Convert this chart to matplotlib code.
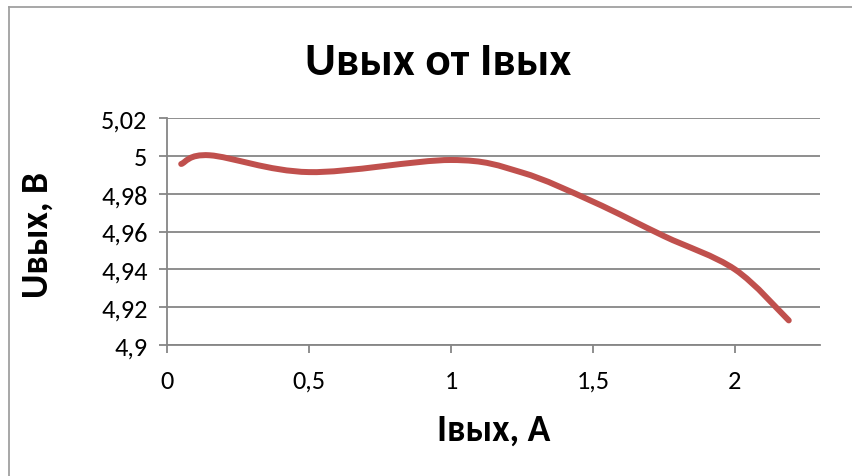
import matplotlib
matplotlib.use("Agg")
import matplotlib.pyplot as plt
from matplotlib.path import Path
from matplotlib.patches import PathPatch
from matplotlib.lines import Line2D
from matplotlib.ticker import FuncFormatter

# Data
current_a = [0.05, 0.15, 0.5, 1.0, 1.25, 1.5, 1.75, 2.0, 2.19]
voltage_v = [4.9957, 5.0003, 4.9914, 4.9978, 4.9912, 4.9758, 4.9576, 4.9400, 4.9130]

title = "Uвых от Iвых"
xlabel = "Iвых, A"
ylabel = "Uвых, В"
x_ticks = [0, 0.5, 1, 1.5, 2]
y_ticks = [4.9, 4.92, 4.94, 4.96, 4.98, 5.0, 5.02]

FONT = ["Carlito", "Lato", "Open Sans", "DejaVu Sans"]
plt.rcParams["font.family"] = FONT

fig = plt.figure(figsize=(8.53, 4.77), dpi=100)
ax = fig.add_axes([167 / 853, 1 - 346 / 477, (820 - 167) / 853, (346 - 119) / 477])

ax.set_xlim(0, 2.3)
ax.set_ylim(4.9, 5.02)
ax.set_xticks(x_ticks)
ax.set_yticks(y_ticks)

def comma_fmt(v, pos):
    s = ("%.2f" % v).rstrip("0").rstrip(".")
    return s.replace(".", ",")

ax.xaxis.set_major_formatter(FuncFormatter(comma_fmt))
ax.yaxis.set_major_formatter(FuncFormatter(comma_fmt))

grid_c = "#868686"
ax.grid(axis="y", color=grid_c, linewidth=1.3)
ax.set_axisbelow(True)
for side in ["top", "right"]:
    ax.spines[side].set_visible(False)
for side in ["left", "bottom"]:
    ax.spines[side].set_color(grid_c)
    ax.spines[side].set_linewidth(1.3)
ax.tick_params(axis="both", direction="out", length=6, width=1.3, color=grid_c,
               labelsize=19, labelcolor="black")
ax.tick_params(axis="x", pad=11)
ax.tick_params(axis="y", pad=8)

# Excel-style smoothed line: cubic Bezier segments through the data points
pts = list(zip(current_a, voltage_v))
n = len(pts)
verts = [pts[0]]
codes = [Path.MOVETO]
for i in range(n - 1):
    p0 = pts[i - 1] if i > 0 else pts[i]
    p1 = pts[i]
    p2 = pts[i + 1]
    p3 = pts[i + 2] if i + 2 < n else pts[i + 1]
    c1 = (p1[0] + (p2[0] - p0[0]) / 6, p1[1] + (p2[1] - p0[1]) / 6)
    c2 = (p2[0] - (p3[0] - p1[0]) / 6, p2[1] - (p3[1] - p1[1]) / 6)
    verts += [c1, c2, p2]
    codes += [Path.CURVE4] * 3
patch = PathPatch(Path(verts, codes), facecolor="none", edgecolor="#C0504D",
                  linewidth=4.3, capstyle="round", joinstyle="round", zorder=3)
ax.add_patch(patch)

ax.set_xlabel(xlabel, fontsize=27, fontweight="bold")
ax.set_ylabel(ylabel, fontsize=27, fontweight="bold")
ax.xaxis.label.set_va("center")
ax.yaxis.label.set_va("center")
ax.xaxis.set_label_coords((494 - 167) / 653, -(430 - 346) / 227)
ax.yaxis.set_label_coords(-(167 - 37) / 653, (346 - 235) / 227)
fig.text(438 / 853, 1 - 62 / 477, title, fontsize=34, fontweight="bold",
         ha="center", va="center")

# Chart frame (top and left edges visible)
fc = "#A0A0A0"
fig.add_artist(Line2D([9 / 853, 1.0], [1 - 8 / 477, 1 - 8 / 477],
                      transform=fig.transFigure, color=fc, linewidth=1.3))
fig.add_artist(Line2D([9 / 853, 9 / 853], [1 - 8 / 477, 0.0],
                      transform=fig.transFigure, color=fc, linewidth=1.3))

fig.savefig("out.png", dpi=100)
